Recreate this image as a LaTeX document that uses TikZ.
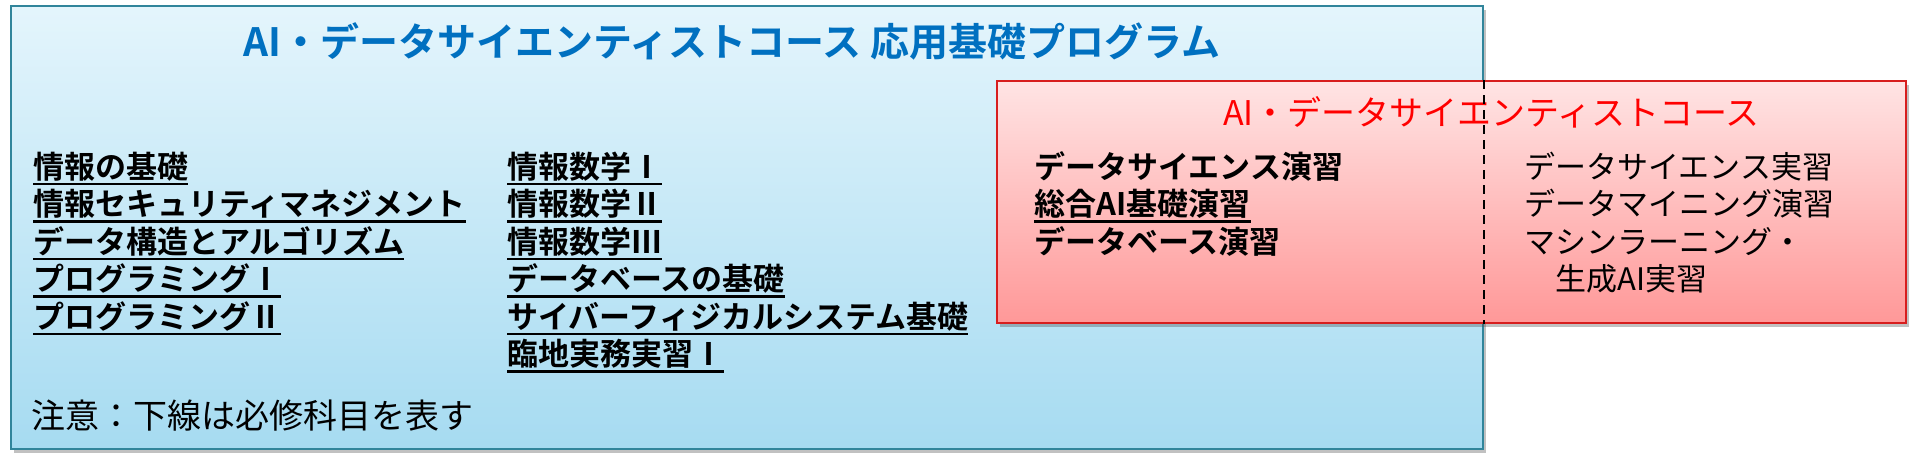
\documentclass[tikz,border=0pt]{standalone}
\usepackage{fontspec}
\setmainfont{Noto Sans CJK JP}[BoldFont={Noto Sans CJK JP Bold}]
\usetikzlibrary{shadows}
\definecolor{boxblue}{RGB}{49,133,155}
\definecolor{bluetop}{RGB}{228,245,252}
\definecolor{bluebot}{RGB}{166,219,241}
\definecolor{boxred}{RGB}{215,30,30}
\definecolor{redtop}{RGB}{255,228,228}
\definecolor{redbot}{RGB}{255,152,152}
\definecolor{titleblue}{RGB}{0,112,192}
\definecolor{titlered}{RGB}{255,0,0}
\begin{document}
\begin{tikzpicture}[x=1pt,y=-1pt,
  bluebox/.style={draw=boxblue, line width=2pt, top color=bluetop, bottom color=bluebot,
    minimum width=1472pt, minimum height=443pt, anchor=north west, inner sep=0pt,
    drop shadow={shadow xshift=3pt, shadow yshift=-4pt, opacity=0.35, fill=black!70}},
  redbox/.style={draw=boxred, line width=2pt, top color=redtop, bottom color=redbot,
    minimum width=909pt, minimum height=242pt, anchor=north west, inner sep=0pt,
    drop shadow={shadow xshift=3pt, shadow yshift=-4pt, opacity=0.35, fill=black!70}},
  item/.style={font=\bfseries\fontsize{31pt}{31pt}\selectfont, inner sep=0pt, anchor=base west},
  plainitem/.style={font=\fontsize{31pt}{31pt}\selectfont, inner sep=0pt, anchor=base west},
  ulline/.style={line width=2.5pt, black},
  dashline/.style={line width=1.6pt, black, dash pattern=on 9pt off 6pt}]
\useasboundingbox (0,0) rectangle (1912,460);
% blue box
\node[bluebox] (blue) at (10,5) {};
\node[font=\bfseries\fontsize{39pt}{39pt}\selectfont, text=titleblue, inner sep=0pt, anchor=base]
  (btitle) at (732,57) {AI・データサイエンティストコース 応用基礎プログラム};
% left column
\node[item] (l1) at (33,178) {情報の基礎};
\node[item] (l2) at (33,215.5) {情報セキュリティマネジメント};
\node[item] (l3) at (33,253) {データ構造とアルゴリズム};
\node[item] (l4) at (33,290.5) {プログラミングⅠ};
\node[item] (l5) at (33,328) {プログラミングⅡ};
% middle column
\node[item] (m1) at (507,178) {情報数学Ⅰ};
\node[item] (m2) at (507,215.5) {情報数学Ⅱ};
\node[item] (m3) at (507,253) {情報数学Ⅲ};
\node[item] (m4) at (507,290.5) {データベースの基礎};
\node[item] (m5) at (507,328) {サイバーフィジカルシステム基礎};
\node[item] (m6) at (507,365.5) {臨地実務実習Ⅰ};
\node[font=\fontsize{34pt}{34pt}\selectfont, inner sep=0pt, anchor=base west]
  (note) at (31,428) {注意：下線は必修科目を表す};
% red box
\node[redbox] (red) at (996,80) {};
\node[font=\fontsize{34pt}{34pt}\selectfont, text=titlered, inner sep=0pt, anchor=base west]
  (rtitle) at (1223,125) {AI・データサイエンティストコース};
\node[item] (r1) at (1034,178) {データサイエンス演習};
\node[item] (r2) at (1034,215.5) {総合AI基礎演習};
\node[item] (r3) at (1034,253) {データベース演習};
\node[plainitem] (s1) at (1524,178) {データサイエンス実習};
\node[plainitem] (s2) at (1524,215.5) {データマイニング演習};
\node[plainitem] (s3) at (1524,253) {マシンラーニング・};
\node[plainitem] (s4) at (1555,290.5) {生成AI実習};
% underlines
\foreach \n in {l1,l2,l3,l4,l5,m1,m2,m3,m4,m5,m6,r2}
  \draw[ulline] ([yshift=-6pt]\n.base west) -- ([yshift=-6pt]\n.base east);
% blue box edge through red box
\draw[dashline] (blue.east |- red.north) -- (blue.east |- red.south);
\end{tikzpicture}
\end{document}
